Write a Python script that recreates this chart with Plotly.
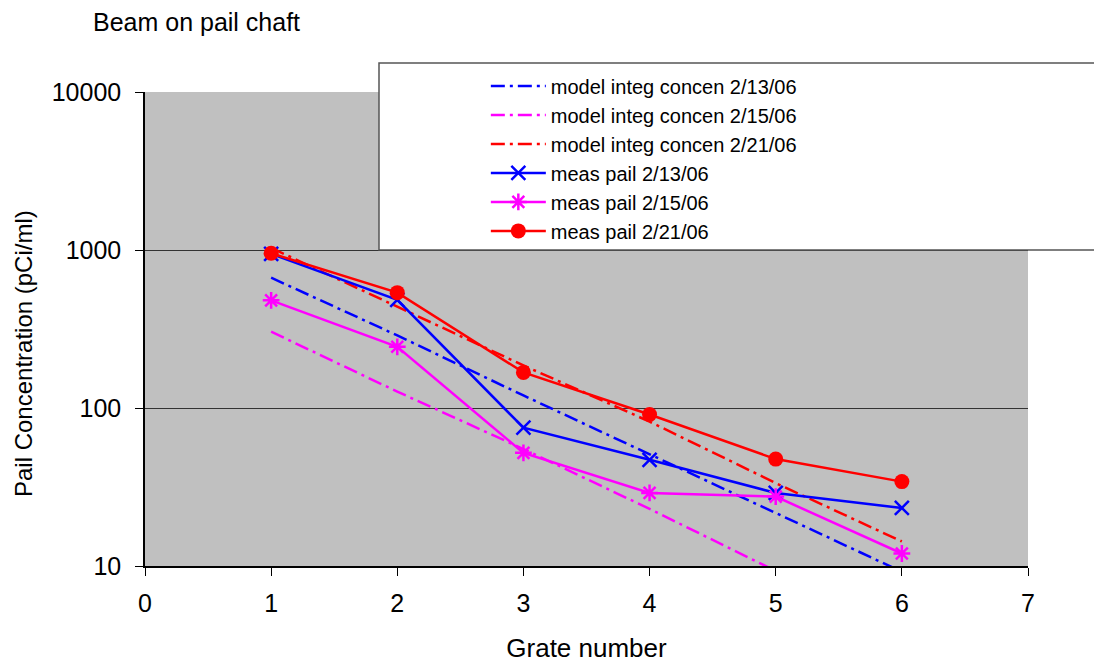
import plotly.graph_objects as go

grate = [1, 2, 3, 4, 5, 6]

model_0213 = [668, 288, 120, 51, 21.7, 9.2]
model_0215 = [304, 127, 55, 23, 9.3, 3.9]
model_0221 = [1030, 440, 186, 82, 33.5, 14.3]
meas_0213 = [944, 483, 75, 47, 29, 23.3]
meas_0215 = [480, 244, 52, 29, 27.5, 12]
meas_0221 = [953, 537, 168, 91, 47.5, 34.2]

names = ["model integ concen 2/13/06", "model integ concen 2/15/06", "model integ concen 2/21/06",
         "meas pail 2/13/06", "meas pail 2/15/06", "meas pail 2/21/06"]

BLUE = "#0000FF"
MAG = "#FF00FF"
RED = "#FF0000"
DASH = "14px,5px,3px,5px"

fig = go.Figure()
for ys, nm, c in [(model_0213, names[0], BLUE), (model_0215, names[1], MAG), (model_0221, names[2], RED)]:
    fig.add_trace(go.Scatter(x=grate, y=ys, name=nm, mode="lines",
                             line=dict(color=c, width=2.5, dash=DASH)))

fig.add_trace(go.Scatter(x=grate, y=meas_0213, name=names[3], mode="lines+markers",
                         line=dict(color=BLUE, width=2.5),
                         marker=dict(symbol="x-thin-open", size=14, color=BLUE, line=dict(color=BLUE, width=2.5))))
fig.add_trace(go.Scatter(x=grate, y=meas_0215, name=names[4], mode="lines+markers",
                         line=dict(color=MAG, width=2.5),
                         marker=dict(symbol="asterisk-open", size=14, color=MAG, line=dict(color=MAG, width=2.5))))
fig.add_trace(go.Scatter(x=grate, y=meas_0221, name=names[5], mode="lines+markers",
                         line=dict(color=RED, width=2.5),
                         marker=dict(symbol="circle", size=15, color=RED)))

FONT = "Liberation Sans, Arial, sans-serif"

# page body has an 8px margin: figure is offset by (8, 8)
W, H = 1094, 659
PW, PH = 883, 474  # plot area size

fig.update_layout(
    width=W, height=H,
    margin=dict(l=137, r=74, t=84, b=101, autoexpand=False),
    paper_bgcolor="white",
    plot_bgcolor="#C0C0C0",
    font=dict(family=FONT, size=25, color="black"),
    showlegend=True,
    legend=dict(x=0.386, y=1.054, xanchor="left", yanchor="top",
                bgcolor="rgba(0,0,0,0)", borderwidth=0,
                font=dict(family=FONT, size=20, color="black"),
                itemwidth=55, tracegroupgap=0),
    title=dict(text="Beam on pail chaft", x=85 / W, xanchor="left", y=1 - 14 / H, yanchor="middle",
               font=dict(family=FONT, size=25, color="black")),
    xaxis=dict(range=[0, 7], dtick=1, tick0=0, showgrid=False, zeroline=False,
               showline=True, linecolor="black", linewidth=1.5,
               ticks="outside", ticklen=8, tickcolor="black",
               tickfont=dict(size=25), ticklabelstandoff=6, automargin=False,
               title=dict(text="Grate number", font=dict(size=26), standoff=23)),
    yaxis=dict(type="log", range=[1, 4], tickvals=[10, 100, 1000, 10000],
               ticktext=["10", "100", "1000", "10000"],
               showgrid=True, gridcolor="#333333", gridwidth=1.2, zeroline=False,
               showline=True, linecolor="black", linewidth=1.5,
               ticks="outside", ticklen=8, tickcolor="black",
               tickfont=dict(size=25), ticklabelstandoff=9, automargin=False),
    annotations=[
        dict(text="Pail Concentration (pCi/ml)", textangle=-90, showarrow=False,
             xref="paper", yref="paper", x=(15 - 137) / PW, y=(566 - 354) / PH,
             xanchor="center", yanchor="middle", font=dict(family=FONT, size=24, color="black")),
    ],
    shapes=[
        dict(type="rect", xref="paper", yref="paper",
             x0=(379 - 145) / PW, x1=(1099 - 145) / PW,
             y0=(566 - 250) / PH, y1=(566 - 63) / PH,
             fillcolor="white", line=dict(color="#555555", width=1.5), layer="above"),
    ],
)

fig.write_html("out.html")
